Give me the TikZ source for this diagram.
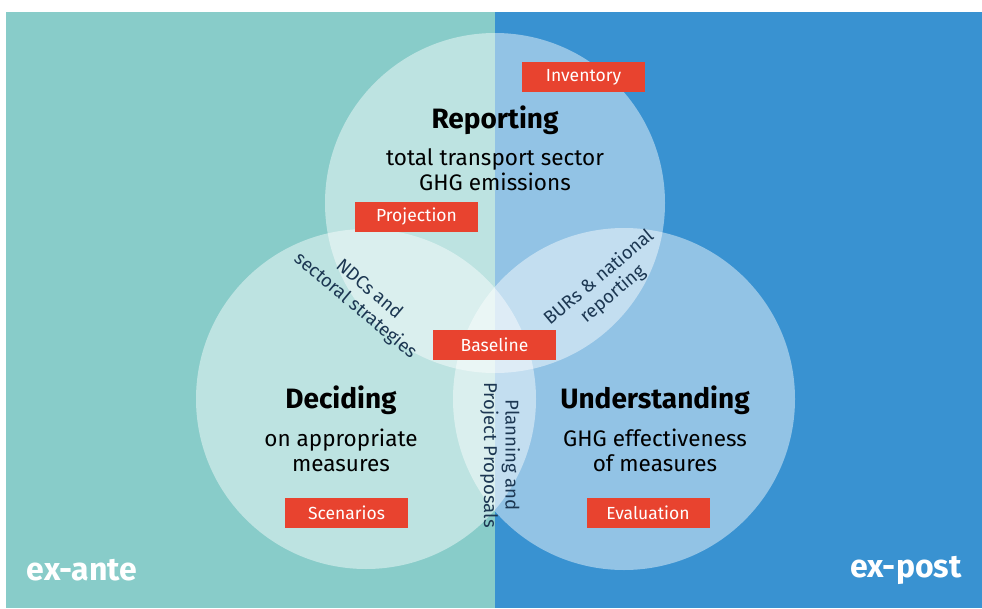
\documentclass[tikz,border=0pt]{standalone}
\usepackage{fontspec}
\setmainfont{Fira Sans}
\definecolor{teal}{HTML}{88CCC9}
\definecolor{blu}{HTML}{3992D1}
\definecolor{redbox}{HTML}{E8432F}
\definecolor{navy}{HTML}{1C3752}
\begin{document}
\begin{tikzpicture}[x=1pt,y=-1pt,
  circ/.style={fill=white,fill opacity=0.45,draw=none},
  tag/.style={fill=redbox,text=white,minimum width=123pt,minimum height=30pt,inner sep=0pt,font=\fontsize{17.5}{17.5}\selectfont},
  title/.style={font=\fontsize{28}{30}\selectfont\bfseries,text=black},
  sub/.style={font=\fontsize{22.5}{25}\selectfont,text=black,align=center},
  lens/.style={font=\fontsize{18.5}{21.5}\selectfont,text=navy,align=center},
  side/.style={font=\fontsize{32}{32}\selectfont\bfseries,text=white}]
\useasboundingbox (0,0) rectangle (982,608);
\fill[white] (0,0) rectangle (982,608);
\fill[teal] (6,12) rectangle (495,608);
\fill[blu] (495,12) rectangle (982,608);
\fill[circ] (495,203) circle (170);
\fill[circ] (366,399) circle (170);
\fill[circ] (624,399) circle (171);
\node[tag] (inv) at (583.5,77) {Inventory};
\node[tag] (proj) at (416.5,217) {Projection};
\node[tag] (base) at (494.5,345) {Baseline};
\node[tag] (scen) at (346.5,512.5) {Scenarios};
\node[tag] (eval) at (648,512.5) {Evaluation};
\node[title] (rep) at (495,120) {Reporting};
\node[sub] (repsub) at (495,170) {total transport sector\\GHG emissions};
\node[title] (dec) at (341,400) {Deciding};
\node[sub] (decsub) at (341,450) {on appropriate\\measures};
\node[title] (und) at (655,400) {Understanding};
\node[sub] (undsub) at (655,450) {GHG effectiveness\\of measures};
\node[lens,rotate=-40] (ndc) at (362,298) {NDCs and\\sectoral strategies};
\node[lens,rotate=40] (bur) at (606,286) {BURs \& national\\reporting};
\node[lens,rotate=-90] (plan) at (500,455) {Planning and\\Project Proposals};
\node[side] (ante) at (82,570) {ex-ante};
\node[side] (post) at (906,570) {ex-post};
\end{tikzpicture}
\end{document}
